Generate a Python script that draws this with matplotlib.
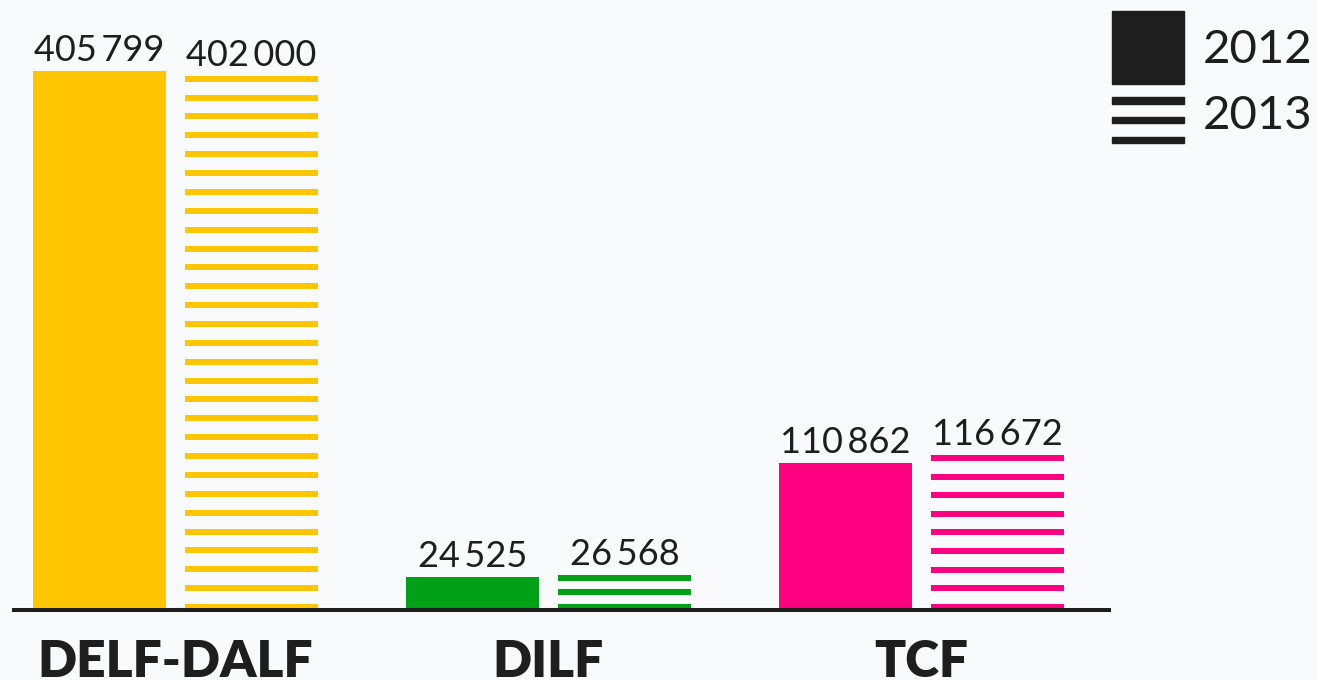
import numpy as np
import matplotlib
matplotlib.use('Agg')
import matplotlib.pyplot as plt
from matplotlib.patches import Rectangle

categories = ['DELF-DALF', 'DILF', 'TCF']
years = ['2012', '2013']
values_2012 = [405799, 24525, 110862]
values_2013 = [402000, 26568, 116672]
colors = ['#ffc600', '#00a116', '#ff0080']

bg = '#f9fafc'
ink = '#1e1e1e'
plt.rcParams['font.family'] = ['Lato', 'DejaVu Sans']

W, H = 1317, 680
fig = plt.figure(figsize=(W / 100, H / 100), dpi=100, facecolor=bg)
ax = fig.add_axes([0, 0, 1, 1])
ax.axis('off')

# pixel scales
base_px = 70            # baseline, from bottom
s = 539.3 / 405799      # px per unit
group_px = 373.0
x0_px = 175.5
ax.set_xlim(-x0_px / group_px, (W - x0_px) / group_px)
ax.set_ylim(-base_px / s, (H - base_px) / s)

x = np.arange(len(categories))
w = 133 / group_px
off = 76 / group_px


def fmt(v):
    return f'{v:,}'.replace(',', '\u2009')


ax.bar(x - off, values_2012, w, color=colors, zorder=2)

# striped 2013 bars
thick = 6.0
for i, v in enumerate(values_2013):
    hp = v * s
    n = int(round(hp / 19)) + 1
    period = (hp - thick) / (n - 1)
    for k in range(n):
        top = hp - k * period
        bot = max(top - thick, 0)
        ax.bar(x[i] + off, (top - bot) / s, w, bottom=bot / s, color=colors[i], zorder=2)

for i in range(len(categories)):
    ax.annotate(fmt(values_2012[i]), (x[i] - off, values_2012[i]), xytext=(0, 10),
                textcoords='offset pixels', ha='center', va='baseline',
                fontsize=26, color=ink)
    ax.annotate(fmt(values_2013[i]), (x[i] + off, values_2013[i]), xytext=(0, 10),
                textcoords='offset pixels', ha='center', va='baseline',
                fontsize=26, color=ink)
    ax.annotate(categories[i], (x[i], 0), xytext=(0, -67),
                textcoords='offset pixels', ha='center', va='baseline',
                fontsize=37, fontweight='heavy', color=ink)

# baseline
ax.plot([(12 - x0_px) / group_px, (1111 - x0_px) / group_px], [0, 0],
        color=ink, lw=2.9, zorder=3, solid_capstyle='butt')

# legend
def frect(x, ytop, w, h, **kw):
    fig.add_artist(Rectangle((x / W, 1 - (ytop + h) / H), w / W, h / H,
                             transform=fig.transFigure, **kw))

frect(1112, 10.7, 72, 73.3, color=ink)
for yt in [97.3, 116.7, 136.7]:
    frect(1112, yt, 72, 6.5, color=ink)
fig.text(1203 / W, 1 - 63 / H, years[0], fontsize=34, va='baseline', color=ink)
fig.text(1203 / W, 1 - 129 / H, years[1], fontsize=34, va='baseline', color=ink)

fig.savefig('out.png', dpi=100, facecolor=bg)
